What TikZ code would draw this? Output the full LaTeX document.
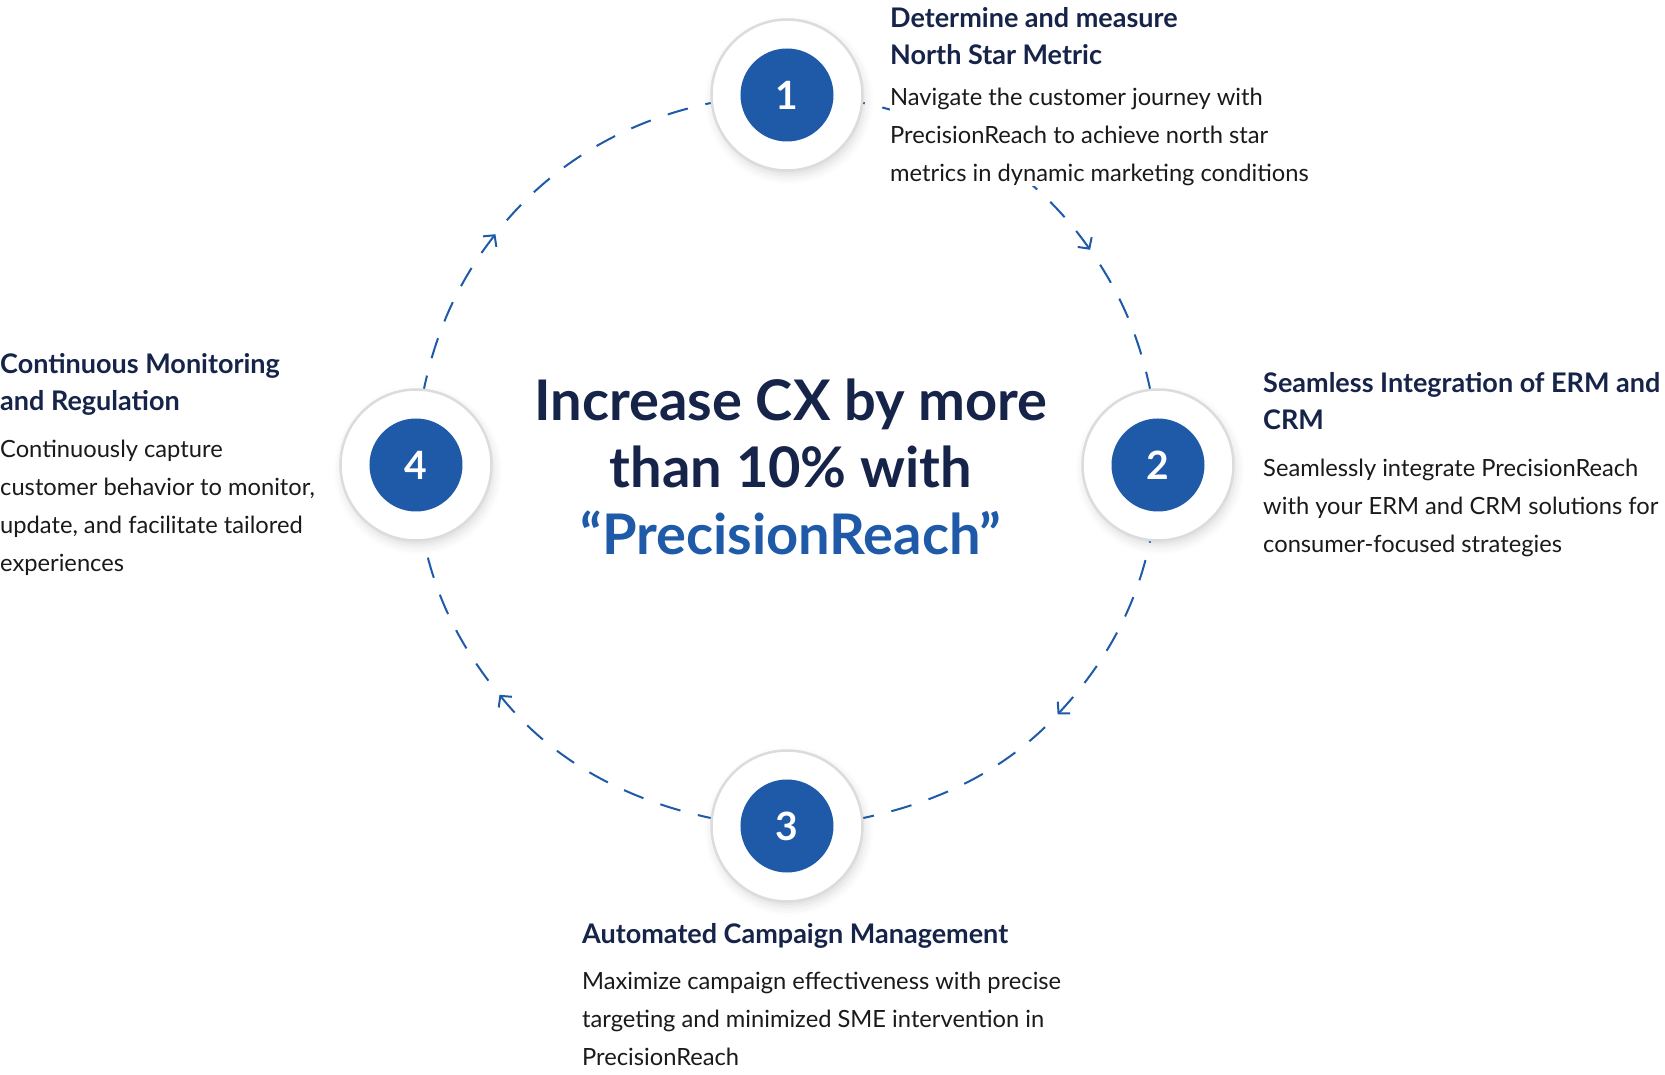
\documentclass[tikz,border=0pt]{standalone}
\usepackage{fontspec}
\setmainfont{Lato}
\usetikzlibrary{calc,arrows.meta,shadows.blur}

\definecolor{navy}{HTML}{17244A}
\definecolor{prblue}{HTML}{1E5AA8}
\definecolor{ringgray}{HTML}{DCDCDC}
\definecolor{bodytext}{HTML}{1A1A1A}

\begin{document}
\begin{tikzpicture}[x=1pt,y=1pt,>={Straight Barb[length=8pt,width=17pt]},
	ring/.style={circle,fill=white,draw=ringgray,line width=2.5pt,minimum size=151pt,inner sep=0pt,
		blur shadow={shadow xshift=2pt,shadow yshift=-5pt,shadow blur radius=9pt,shadow opacity=14}},
	num/.style={circle,fill=prblue,minimum size=93pt,inner sep=0pt,text=white,font=\fontsize{39}{39}\selectfont\bfseries},
	title/.style={anchor=base west,align=left,inner sep=0pt,fill=white,text=navy,font=\fontsize{27}{37.5}\selectfont\bfseries},
	desc/.style={anchor=base west,align=left,inner sep=0pt,fill=white,text=bodytext,font=\fontsize{23.7}{38}\selectfont},
	cycleline/.style={prblue,line width=2pt,dash pattern=on 21pt off 18pt}]

\useasboundingbox (-787,-613) rectangle (878,462);

% the four steps round the circle
\foreach \i/\x/\y in {1/0/367,2/371/-3,3/0/-364,4/-371/-3} {
	\node [ring] (s\i) at (\x,\y) {};
	\node [num] (n\i) at (s\i) {\i};
}

% dashed arcs, clockwise, with the arrow tip in the middle
\foreach \i/\j/\a/\b/\t in {1/2/90/0/35,2/3/0/-90/-43,3/4/-90/180/219,4/1/180/90/142} {
	\pgfmathtruncatemacro{\back}{\t+90}
	\pgfmathtruncatemacro{\fwd}{\t-90}
	\pgfmathtruncatemacro{\pa}{\a-96}
	\pgfmathtruncatemacro{\pb}{\b+96}
	\coordinate (a\i) at (\t:370);
	\draw [cycleline,<-] (a\i) to [out=\back,in=\a-102,looseness=0.9] (s\i.\pa);
	\draw [cycleline,dash phase=21pt] (a\i) to [out=\fwd,in=\b+102,looseness=0.9] (s\j.\pb);
}

\node [align=center,anchor=base,text=navy,font=\fontsize{56}{67}\selectfont\bfseries] (head) at (4,-93)
	{Increase CX by more\\than 10\% with\\\textcolor{prblue}{“PrecisionReach”}};

\node [title] (t1) at (103,397) {Determine and measure\\North Star Metric};
\node [desc] (d1) at (103,280) {Navigate the customer journey with\\PrecisionReach to achieve north star\\metrics in dynamic marketing conditions};

\node [title] (t2) at (476,32) {Seamless Integration of ERM and\\CRM};
\node [desc] (d2) at (476,-91) {Seamlessly integrate PrecisionReach\\with your ERM and CRM solutions for\\consumer-focused strategies};

\node [title] (t3) at (-205,-481) {Automated Campaign Management};
\node [desc] (d3) at (-205,-603) {Maximize campaign effectiveness with precise\\targeting and minimized SME intervention in\\PrecisionReach};

\node [title] (t4) at (-787,51) {Continuous Monitoring\\and Regulation};
\node [desc] (d4) at (-787,-110) {Continuously capture\\customer behavior to monitor,\\update, and facilitate tailored\\experiences};

\end{tikzpicture}
\end{document}
